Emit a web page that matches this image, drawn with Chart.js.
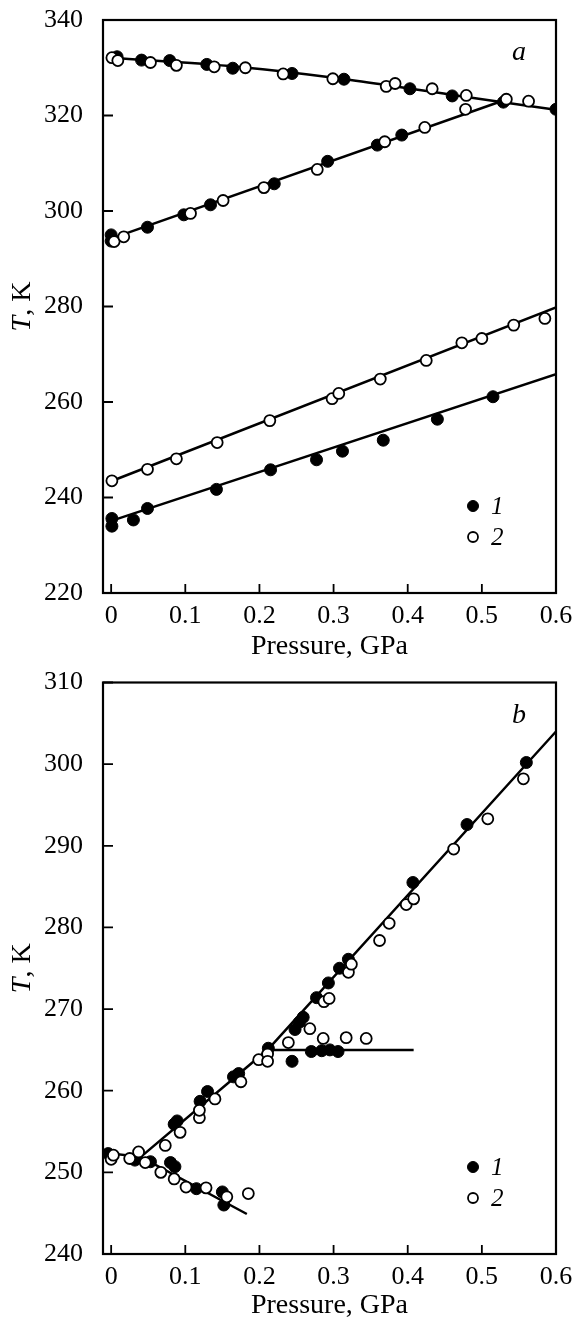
<!DOCTYPE html>
<html><head><meta charset="utf-8">
<script src="https://cdn.jsdelivr.net/npm/chart.js@4.4.0/dist/chart.umd.min.js"></script>
<style>
html,body{margin:0;padding:0;background:#fff;}
body{width:573px;height:1320px;position:relative;overflow:hidden;}
#ca{position:absolute;left:0;top:0;}
#cb{position:absolute;left:0;top:660px;}
</style></head><body>
<canvas id="ca" width="573" height="670"></canvas>
<canvas id="cb" width="573" height="660"></canvas>
<script>
// ---- tick labels & texts ----
const xTicks = [0, 0.1, 0.2, 0.3, 0.4, 0.5, 0.6];
const yTicksA = [220, 240, 260, 280, 300, 320, 340];
const yTicksB = [240, 250, 260, 270, 280, 290, 300, 310];
const legendLabels = ['1', '2'];
const panelLabels = ['a', 'b'];
const xTitle = 'Pressure, GPa';
const yTitleSymbol = 'T';
const yTitleUnit = ', K';

// ---- panel a data: [pressure GPa, T K] ----
const aSet1 = [[0.008,332.3],[0.041,331.6],[0.079,331.5],[0.129,330.7],[0.164,329.9],[0.244,328.8],[0.314,327.6],[0.403,325.6],[0.460,324.1],[0.529,322.8],[0.600,321.3],
  [0.000,295.0],[0.000,293.7],[0.049,296.6],[0.098,299.2],[0.134,301.3],[0.220,305.7],[0.292,310.4],[0.359,313.8],[0.392,315.9],
  [0.001,235.6],[0.001,234.0],[0.030,235.3],[0.049,237.7],[0.142,241.7],[0.215,245.8],[0.277,247.9],[0.312,249.7],[0.367,252.0],[0.440,256.4],[0.515,261.1]];
const aSet2 = [[0.001,332.1],[0.009,331.5],[0.053,331.1],[0.088,330.5],[0.139,330.2],[0.181,330.0],[0.232,328.7],[0.299,327.7],[0.371,326.1],[0.383,326.7],[0.433,325.6],[0.479,324.2],[0.533,323.4],[0.563,323.0],
  [0.004,293.6],[0.017,294.6],[0.107,299.5],[0.151,302.2],[0.206,304.9],[0.278,308.7],[0.369,314.5],[0.423,317.5],[0.478,321.3],
  [0.001,243.5],[0.049,245.9],[0.088,248.1],[0.143,251.5],[0.214,256.1],[0.298,260.7],[0.307,261.8],[0.363,264.8],[0.425,268.7],[0.473,272.4],[0.500,273.3],[0.543,276.1],[0.585,277.5]];
const aFitTop = [[0,332.1],[0.17,330.2],[0.33,327.3],[0.47,324.1],[0.6,321.2]];
const aFitRise = [[0,294.2],[0.53,323.2]];
const aFitOpen = [[0,243.4],[0.6,279.8]];
const aFitFilled = [[-0.006,234.8],[0.6,265.8]];

// ---- panel b data ----
const bSet1 = [[-0.004,252.3],[0.032,251.5],[0.053,251.3],[0.080,251.2],[0.086,250.7],[0.115,248.0],[0.150,247.6],[0.152,246.0],
  [0.085,255.9],[0.089,256.3],[0.120,258.7],[0.130,259.9],[0.165,261.7],[0.172,262.1],[0.212,265.2],[0.248,267.5],[0.254,268.4],[0.259,269.0],[0.277,271.4],[0.293,273.2],[0.308,275.0],[0.320,276.1],[0.407,285.5],[0.480,292.6],[0.560,300.2],
  [0.244,263.6],[0.270,264.8],[0.284,264.9],[0.295,265.0],[0.306,264.8]];
const bSet2 = [[0.000,251.6],[0.003,252.1],[0.025,251.7],[0.037,252.5],[0.046,251.2],[0.067,250.0],[0.073,253.3],[0.085,249.2],[0.093,254.9],[0.101,248.2],[0.119,256.7],[0.119,257.6],[0.128,248.1],[0.140,259.0],[0.156,247.0],[0.175,261.1],[0.185,247.4],[0.199,263.8],[0.211,264.5],[0.211,263.6],
  [0.239,265.9],[0.268,267.6],[0.287,270.9],[0.294,271.3],[0.286,266.4],[0.317,266.5],[0.344,266.4],[0.320,274.5],[0.324,275.5],[0.362,278.4],[0.375,280.5],[0.398,282.8],[0.408,283.5],[0.462,289.6],[0.508,293.3],[0.556,298.2]];
const bFitMain = [[0.04,251.9],[0.212,265.1],[0.6,304.0]];
const bFitFlat = [[0.212,265.0],[0.408,265.0]];
const bFitLow = [[0.0,252.3],[0.04,251.9],[0.183,244.9]];

// ---- helpers ----
const FONT = '"Liberation Serif", "Times New Roman", serif';
const pts = arr => arr.map(([x, y]) => ({x, y}));
const filledStyle = {showLine:false, pointRadius:6, pointHoverRadius:6, pointBackgroundColor:'#000', pointBorderColor:'#000', pointBorderWidth:1, order:1};
const openStyle = {showLine:false, pointRadius:5.5, pointHoverRadius:5.5, pointBackgroundColor:'#fff', pointBorderColor:'#000', pointBorderWidth:1.8, order:0};
const lineStyle = {showLine:true, pointRadius:0, pointHoverRadius:0, borderColor:'#000', borderWidth:2.5, fill:false, order:5};

const framePlugin = {
  id: 'frame',
  beforeDatasetsDraw(chart, args, o) {
    const {ctx, chartArea: ca, scales: {x, y}} = chart;
    ctx.save();
    ctx.strokeStyle = '#000';
    ctx.lineWidth = 2.2;
    ctx.strokeRect(ca.left, ca.top, ca.right - ca.left, ca.bottom - ca.top);
    ctx.lineWidth = 1.8;
    ctx.beginPath();
    x.ticks.forEach(t => { const p = x.getPixelForValue(t.value); ctx.moveTo(p, ca.bottom); ctx.lineTo(p, ca.bottom - 9); });
    y.ticks.forEach(t => { const p = y.getPixelForValue(t.value); ctx.moveTo(ca.left, p); ctx.lineTo(ca.left + 10, p); });
    ctx.stroke();
    ctx.restore();
  },
  afterDraw(chart, args, o) {
    const {ctx, chartArea: ca} = chart;
    ctx.save();
    ctx.fillStyle = '#000';
    // panel letter
    ctx.font = 'italic 28px ' + FONT;
    ctx.textAlign = 'center';
    ctx.textBaseline = 'alphabetic';
    ctx.fillText(o.label, ca.right - 37, ca.top + 40);
    // legend
    o.legend.forEach((item, i) => {
      const ds = chart.data.datasets[item.ds];
      const cx = ca.right - 83, cy = ca.bottom - 87 + i * 31;
      ctx.beginPath();
      ctx.arc(cx, cy, ds.pointRadius - 0.5, 0, Math.PI * 2);
      ctx.fillStyle = ds.pointBackgroundColor;
      ctx.fill();
      ctx.lineWidth = ds.pointBorderWidth;
      ctx.strokeStyle = ds.pointBorderColor;
      ctx.stroke();
      ctx.fillStyle = '#000';
      ctx.font = 'italic 25px ' + FONT;
      ctx.textAlign = 'left';
      ctx.fillText(item.text, ca.right - 65, cy + 8);
    });
    // y title: italic symbol + regular unit, rotated
    ctx.translate(23, (ca.top + ca.bottom) / 2);
    ctx.rotate(-Math.PI / 2);
    ctx.textBaseline = 'middle';
    ctx.textAlign = 'left';
    const fI = 'italic 28px ' + FONT, fR = '28px ' + FONT;
    ctx.font = fI; const w1 = ctx.measureText(yTitleSymbol).width;
    ctx.font = fR; const w2 = ctx.measureText(yTitleUnit).width;
    const x0 = -(w1 + w2) / 2;
    ctx.font = fI; ctx.fillText(yTitleSymbol, x0, 0);
    ctx.font = fR; ctx.fillText(yTitleUnit, x0 + w1, 0);
    ctx.restore();
  }
};

function makeChart(id, datasets, yTicks, ymin, ymax, label, padTop, xAxisH, titlePad) {
  return new Chart(document.getElementById(id), {
    type: 'scatter',
    data: {datasets},
    plugins: [framePlugin],
    options: {
      responsive: false,
      animation: false,
      events: [],
      layout: {padding: {left: 0, right: 17, top: padTop, bottom: 0}},
      plugins: {
        legend: {display: false},
        tooltip: {enabled: false},
        frame: {label, legend: [{text: legendLabels[0], ds: 0}, {text: legendLabels[1], ds: 1}]}
      },
      scales: {
        x: {
          type: 'linear', min: -0.011, max: 0.6,
          afterBuildTicks: s => { s.ticks = xTicks.map(v => ({value: v})); },
          afterFit: s => { s.height = xAxisH; s.paddingLeft = 0; s.paddingRight = 0; s.paddingTop = 0; s.paddingBottom = 0; },
          grid: {display: false, drawTicks: false},
          border: {display: false},
          ticks: {color: '#000', font: {family: FONT, size: 26}, padding: 8, maxRotation: 0, autoSkip: false, callback: v => String(v)},
          title: {display: true, text: xTitle, color: '#000', font: {family: FONT, size: 28, lineHeight: 1}, padding: {top: 0, bottom: titlePad}}
        },
        y: {
          type: 'linear', min: ymin, max: ymax,
          afterBuildTicks: s => { s.ticks = yTicks.map(v => ({value: v})); },
          afterFit: s => { s.width = 103; s.paddingTop = 0; s.paddingBottom = 0; s.paddingLeft = 0; s.paddingRight = 0; },
          grid: {display: false, drawTicks: false},
          border: {display: false},
          ticks: {color: '#000', font: {family: FONT, size: 26}, padding: 20, autoSkip: false, callback: v => String(v)}
        }
      }
    }
  });
}

makeChart('ca', [
  Object.assign({label: legendLabels[0], data: pts(aSet1)}, filledStyle),
  Object.assign({label: legendLabels[1], data: pts(aSet2)}, openStyle),
  Object.assign({label: 'fit top', data: pts(aFitTop), cubicInterpolationMode: 'monotone'}, lineStyle),
  Object.assign({label: 'fit rise', data: pts(aFitRise)}, lineStyle),
  Object.assign({label: 'fit open', data: pts(aFitOpen)}, lineStyle),
  Object.assign({label: 'fit filled', data: pts(aFitFilled)}, lineStyle)
], yTicksA, 220, 340, panelLabels[0], 20, 77, 9);

makeChart('cb', [
  Object.assign({label: legendLabels[0], data: pts(bSet1)}, filledStyle),
  Object.assign({label: legendLabels[1], data: pts(bSet2)}, openStyle),
  Object.assign({label: 'fit main', data: pts(bFitMain)}, lineStyle),
  Object.assign({label: 'fit flat', data: pts(bFitFlat)}, lineStyle),
  Object.assign({label: 'fit low', data: pts(bFitLow)}, lineStyle)
], yTicksB, 240, 310, panelLabels[1], 22.5, 66, 0);
</script>
</body></html>
